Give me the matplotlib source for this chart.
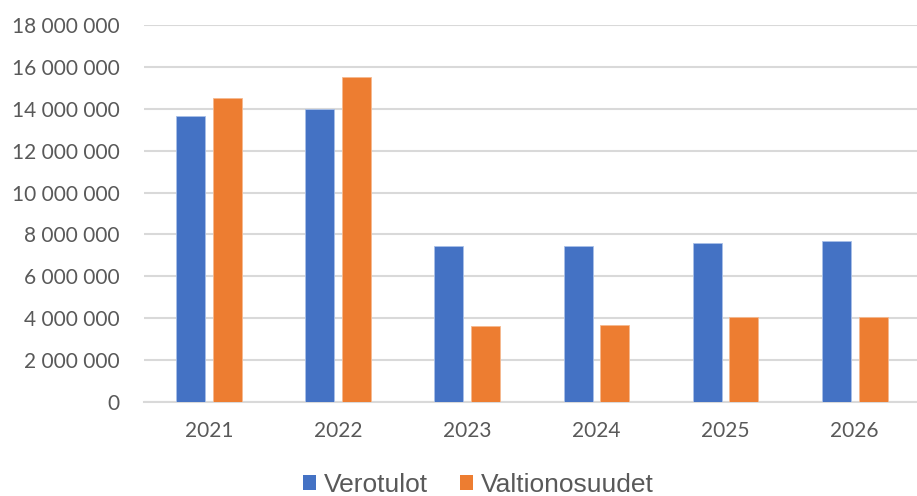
import matplotlib
matplotlib.use("Agg")
import matplotlib.pyplot as plt
import numpy as np
from matplotlib.patches import Patch

years = ["2021", "2022", "2023", "2024", "2025", "2026"]
verotulot = [13670000, 13970000, 7430000, 7430000, 7600000, 7670000]
valtionosuudet = [14520000, 15500000, 3630000, 3690000, 4060000, 4060000]
yticks = [0, 2000000, 4000000, 6000000, 8000000, 10000000, 12000000, 14000000, 16000000, 18000000]

blue = "#4472C4"
orange = "#ED7D31"
gray_text = "#595959"
grid = "#D9D9D9"

fig = plt.figure(figsize=(9.17, 4.96), dpi=100)
ax = fig.add_axes([0.1575, 0.1895, 0.845, 0.7601])

x = np.arange(len(years))
w = 0.224
off = 0.142
ax.bar(x - off, verotulot, width=w, color=blue, edgecolor="#A9C0E8", linewidth=0.6, zorder=3)
ax.bar(x + off, valtionosuudet, width=w, color=orange, edgecolor="#F5B98F", linewidth=0.6, zorder=3)

ax.set_xlim(-0.5, len(years) - 0.5)
ax.set_ylim(0, 18000000)
ax.set_yticks(yticks)
ax.set_yticklabels([f"{v:,}".replace(",", " ") for v in yticks], fontsize=15, color=gray_text, family="Lato")
ax.set_xticks(x)
ax.set_xticklabels(years, fontsize=15, color=gray_text, family="Lato")
ax.tick_params(axis="both", length=0)
ax.tick_params(axis="y", pad=18)
ax.tick_params(axis="x", pad=14)
ax.yaxis.grid(True, color=grid, linewidth=1.5, zorder=0)
ax.set_axisbelow(True)
for s in ["top", "right", "left"]:
    ax.spines[s].set_visible(False)
ax.spines["bottom"].set_color(grid)
ax.spines["bottom"].set_linewidth(1.5)

handles = [Patch(facecolor=blue, label="Verotulot"), Patch(facecolor=orange, label="Valtionosuudet")]
leg = fig.legend(handles=handles, loc="center", bbox_to_anchor=(0.522, 0.022), ncol=2, frameon=False,
                 prop={"family": "Liberation Sans", "size": 19}, handlelength=0.5, handleheight=0.5,
                 handletextpad=0.3, columnspacing=1.2, labelcolor=gray_text, borderpad=0)

fig.savefig("out.png", dpi=100)
